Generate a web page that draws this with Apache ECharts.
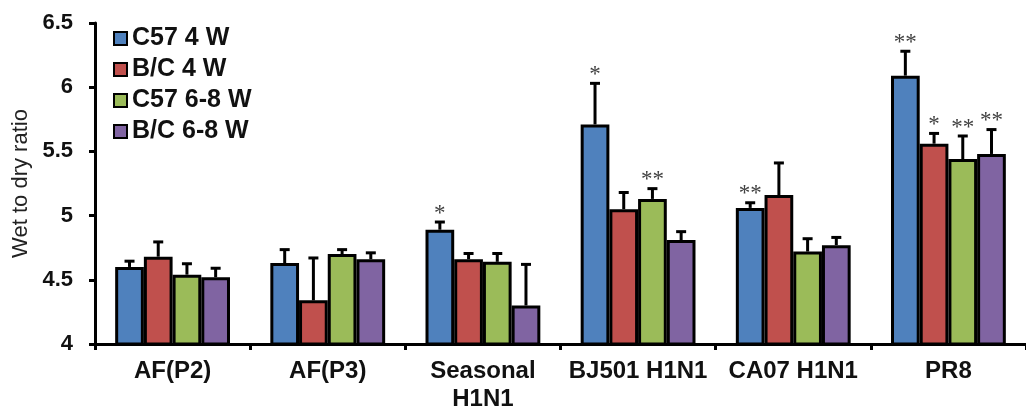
<!DOCTYPE html>
<html>
<head>
<meta charset="utf-8">
<script src="https://cdn.jsdelivr.net/npm/echarts@6/dist/echarts.min.js"></script>
<style>
html,body{margin:0;padding:0;background:#fff;}
#chart{width:1026px;height:413px;}
</style>
</head>
<body>
<div id="chart"></div>
<script>
const categories = ['AF(P2)', 'AF(P3)', 'Seasonal\nH1N1', 'BJ501 H1N1', 'CA07 H1N1', 'PR8'];
const seriesNames = ['C57 4 W', 'B/C 4 W', 'C57 6-8 W', 'B/C 6-8 W'];
const c57_4w = [4.60, 4.63, 4.89, 5.71, 5.06, 6.09];
const bc_4w = [4.68, 4.34, 4.66, 5.05, 5.16, 5.56];
const c57_68w = [4.54, 4.70, 4.64, 5.13, 4.72, 5.44];
const bc_68w = [4.52, 4.66, 4.30, 4.81, 4.77, 5.48];
const c57_4w_err = [0.045, 0.105, 0.06, 0.32, 0.04, 0.19];
const bc_4w_err = [0.115, 0.33, 0.045, 0.13, 0.25, 0.08];
const c57_68w_err = [0.085, 0.035, 0.065, 0.08, 0.10, 0.18];
const bc_68w_err = [0.07, 0.05, 0.32, 0.065, 0.06, 0.19];
const c57_4w_sig = ['', '', '*', '*', '**', '**'];
const bc_4w_sig = ['', '', '', '', '', '*'];
const c57_68w_sig = ['', '', '', '**', '', '**'];
const bc_68w_sig = ['', '', '', '', '', '**'];
const yTicks = [4, 4.5, 5, 5.5, 6, 6.5];

const values = [c57_4w, bc_4w, c57_68w, bc_68w];
const errs = [c57_4w_err, bc_4w_err, c57_68w_err, bc_68w_err];
const sigs = [c57_4w_sig, bc_4w_sig, c57_68w_sig, bc_68w_sig];
const colors = ['#4F81BD', '#C0504D', '#9BBB59', '#8064A2'];
const CAT_GAP = 0.26;
const FONT = '"Liberation Sans", Arial, sans-serif';

const series = [];
values.forEach(function (vals, si) {
  series.push({
    name: seriesNames[si],
    type: 'bar',
    data: vals,
    barGap: '0%',
    barCategoryGap: (CAT_GAP * 100) + '%',
    itemStyle: { color: colors[si], borderColor: '#000', borderWidth: 3 },
    z: 2
  });
});
values.forEach(function (vals, si) {
  series.push({
    type: 'custom',
    name: seriesNames[si] + ' err',
    z: 5,
    silent: true,
    data: vals.map(function (v, i) { return [i, v, errs[si][i]]; }),
    encode: { x: 0, y: 1 },
    renderItem: function (params, api) {
      const ci = api.value(0), v = api.value(1), e = api.value(2);
      const band = api.size([1, 0])[0];
      const bw = band * (1 - CAT_GAP) / 4;
      const off = (si - 1.5) * bw;
      const top = api.coord([ci, v]);
      const cap = api.coord([ci, v + e]);
      const x = top[0] + off;
      const star = sigs[si][params.dataIndex];
      const children = [
        { type: 'line', shape: { x1: x, y1: top[1], x2: x, y2: cap[1] }, style: { stroke: '#000', lineWidth: 3 } },
        { type: 'line', shape: { x1: x - 5, y1: cap[1], x2: x + 5, y2: cap[1] }, style: { stroke: '#000', lineWidth: 3 } }
      ];
      if (star) {
        children.push({
          type: 'text',
          style: {
            x: x, y: cap[1] + 3, text: star, align: 'center', verticalAlign: 'bottom',
            fill: '#404040', font: '23px "Liberation Serif", "Times New Roman", serif'
          }
        });
      }
      return { type: 'group', children: children };
    }
  });
});

const chart = echarts.init(document.getElementById('chart'));
chart.setOption({
  animation: false,
  backgroundColor: '#fff',
  grid: { left: 95, top: 23, bottom: 69, right: -9, containLabel: false },
  legend: {
    data: seriesNames,
    orient: 'vertical',
    left: 108,
    top: 21,
    itemGap: 6,
    itemWidth: 13,
    itemHeight: 13,
    icon: 'rect',
    itemStyle: { borderColor: '#000', borderWidth: 2 },
    textStyle: { fontFamily: FONT, fontWeight: 'bold', fontSize: 25, color: '#111' }
  },
  xAxis: {
    type: 'category',
    data: categories,
    axisLine: { lineStyle: { color: '#000', width: 3 } },
    axisTick: { show: true, length: 6, lineStyle: { color: '#000', width: 3 } },
    axisLabel: { interval: 0, margin: 13, fontFamily: FONT, fontWeight: 'bold', fontSize: 24, lineHeight: 28, color: '#111' }
  },
  yAxis: {
    type: 'value',
    min: yTicks[0],
    max: yTicks[yTicks.length - 1],
    interval: 0.5,
    name: 'Wet to dry ratio',
    nameLocation: 'middle',
    nameGap: 60,
    nameTextStyle: { fontFamily: FONT, fontSize: 22, color: '#222' },
    splitLine: { show: false },
    axisLine: { show: true, lineStyle: { color: '#000', width: 3 } },
    axisTick: { show: true, length: 6, lineStyle: { color: '#000', width: 3 } },
    axisLabel: { margin: 22, fontFamily: FONT, fontWeight: 'bold', fontSize: 22, color: '#111' }
  },
  series: series
});
</script>
</body>
</html>
